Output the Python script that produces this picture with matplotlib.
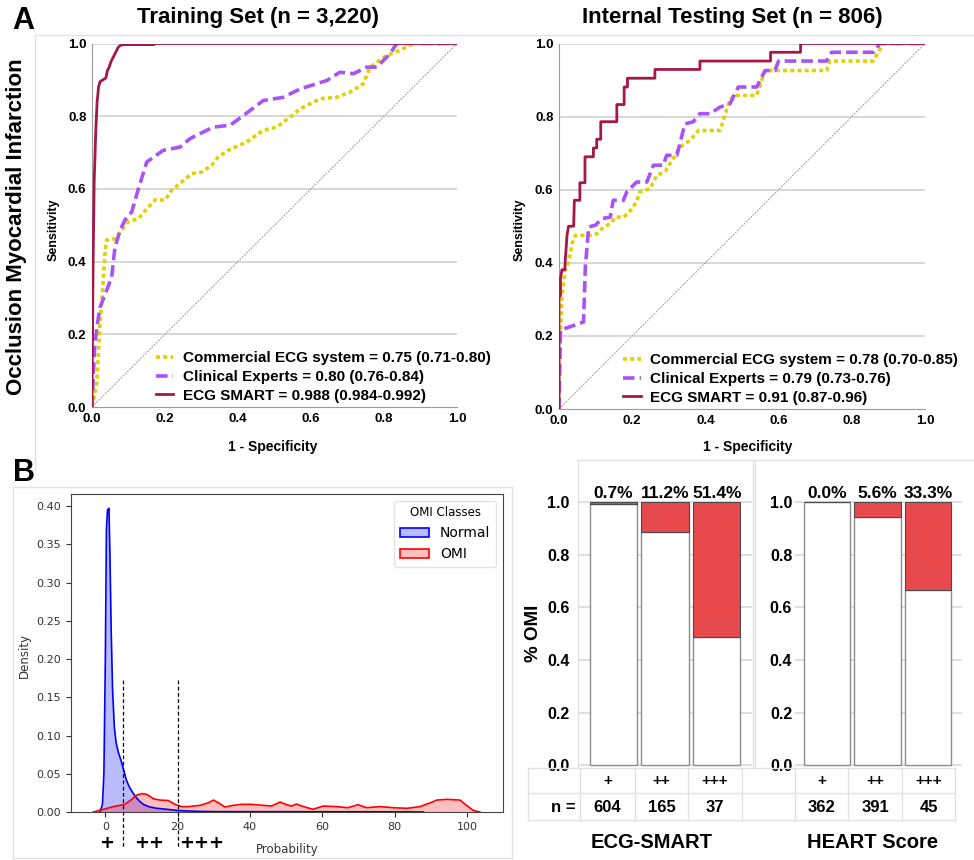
import numpy as np
import matplotlib.pyplot as plt
from matplotlib.lines import Line2D
from matplotlib.patches import Patch
import matplotlib.transforms as mtransforms

W, H = 974, 860

# ROC curves (fpr, tpr)
train_smart_fpr = [0, 0.003, 0.006, 0.01, 0.014, 0.018, 0.022, 0.03, 0.038, 0.042, 0.047, 0.052, 0.057,
                   0.062, 0.067, 0.072, 0.078, 0.085, 0.17, 0.175, 1.0]
train_smart_tpr = [0, 0.4, 0.62, 0.75, 0.84, 0.88, 0.895, 0.9, 0.905, 0.925, 0.935, 0.95, 0.96,
                   0.97, 0.98, 0.99, 0.995, 0.997, 0.997, 1.0, 1.0]
train_expert_fpr = [0, 0.004, 0.008, 0.015, 0.022, 0.036, 0.054, 0.063, 0.077, 0.09, 0.109, 0.127, 0.15,
                    0.195, 0.241, 0.268, 0.332, 0.378, 0.415, 0.469, 0.524, 0.57, 0.643, 0.679, 0.716,
                    0.753, 0.78, 0.816, 0.835, 1.0]
train_expert_tpr = [0, 0.1, 0.175, 0.23, 0.275, 0.31, 0.358, 0.44, 0.486, 0.514, 0.537, 0.60, 0.674,
                    0.706, 0.715, 0.738, 0.77, 0.775, 0.802, 0.843, 0.852, 0.875, 0.898, 0.921, 0.917,
                    0.935, 0.935, 0.971, 1.0, 1.0]
train_comm_fpr = [0, 0.013, 0.022, 0.027, 0.036, 0.04, 0.063, 0.081, 0.1, 0.127, 0.15, 0.173, 0.2, 0.218,
                  0.246, 0.273, 0.30, 0.328, 0.346, 0.373, 0.424, 0.469, 0.506, 0.542, 0.57, 0.625, 0.67,
                  0.707, 0.743, 0.762, 0.807, 0.844, 0.88, 1.0]
train_comm_tpr = [0, 0.064, 0.23, 0.294, 0.43, 0.459, 0.463, 0.486, 0.51, 0.518, 0.545, 0.57, 0.569, 0.596,
                  0.619, 0.642, 0.646, 0.665, 0.688, 0.706, 0.729, 0.761, 0.77, 0.797, 0.82, 0.848, 0.852,
                  0.866, 0.889, 0.935, 0.967, 0.981, 1.0, 1.0]

test_smart_fpr = [0, 0, 0.004, 0.004, 0.008, 0.016, 0.017, 0.022, 0.026, 0.04, 0.042, 0.057, 0.057, 0.071,
                  0.071, 0.094, 0.094, 0.103, 0.103, 0.114, 0.114, 0.158, 0.158, 0.178, 0.178, 0.187, 0.187,
                  0.262, 0.262, 0.385, 0.385, 0.578, 0.578, 0.66, 0.66, 1.0]
test_smart_tpr = [0, 0.31, 0.31, 0.357, 0.381, 0.381, 0.405, 0.476, 0.5, 0.5, 0.571, 0.571, 0.619, 0.619,
                  0.69, 0.69, 0.714, 0.714, 0.738, 0.738, 0.786, 0.786, 0.833, 0.833, 0.881, 0.881, 0.905,
                  0.905, 0.929, 0.929, 0.952, 0.952, 0.976, 0.976, 1.0, 1.0]
test_expert_fpr = [0, 0.004, 0.067, 0.072, 0.081, 0.1, 0.117, 0.14, 0.148, 0.176, 0.185, 0.212, 0.24, 0.258,
                   0.285, 0.294, 0.322, 0.344, 0.367, 0.385, 0.413, 0.44, 0.467, 0.49, 0.54, 0.563, 0.59,
                   0.6, 0.731, 0.745, 0.859, 0.877, 1.0]
test_expert_tpr = [0, 0.216, 0.238, 0.389, 0.498, 0.503, 0.521, 0.525, 0.571, 0.571, 0.594, 0.621, 0.621,
                   0.667, 0.667, 0.694, 0.694, 0.78, 0.786, 0.808, 0.808, 0.826, 0.835, 0.881, 0.881, 0.926,
                   0.926, 0.952, 0.952, 0.976, 0.976, 1.0, 1.0]
test_comm_fpr = [0, 0.0, 0.004, 0.008, 0.017, 0.026, 0.036, 0.045, 0.09, 0.104, 0.122, 0.14, 0.154, 0.177,
                 0.2, 0.213, 0.221, 0.249, 0.267, 0.29, 0.312, 0.331, 0.358, 0.381, 0.44, 0.463, 0.476, 0.54,
                 0.563, 0.731, 0.74, 0.859, 0.886, 1.0]
test_comm_tpr = [0, 0.116, 0.207, 0.307, 0.38, 0.4, 0.453, 0.475, 0.475, 0.48, 0.498, 0.507, 0.525, 0.525,
                 0.548, 0.571, 0.594, 0.603, 0.639, 0.65, 0.685, 0.717, 0.735, 0.762, 0.762, 0.835, 0.858,
                 0.858, 0.926, 0.926, 0.952, 0.952, 1.0, 1.0]

train_labels = ['Commercial ECG system = 0.75 (0.71-0.80)',
                'Clinical Experts = 0.80 (0.76-0.84)',
                'ECG SMART = 0.988 (0.984-0.992)']
test_labels = ['Commercial ECG system = 0.78 (0.70-0.85)',
               'Clinical Experts = 0.79 (0.73-0.76)',
               'ECG SMART = 0.91 (0.87-0.96)']

# density curves
normal_x = [-1.5, -0.8, -0.4, 0.0, 0.3, 0.6, 1.0, 1.3, 1.6, 2.0, 2.5, 3.0, 3.6, 4.3, 5.0, 5.8, 6.6, 7.5,
            8.5, 9.5, 10.5, 12, 14, 16, 18, 20, 23, 26, 30, 40, 50, 60, 70, 80, 86, 88]
normal_y = [0, 0.01, 0.05, 0.2, 0.37, 0.395, 0.397, 0.33, 0.24, 0.16, 0.11, 0.09, 0.078, 0.068, 0.056,
            0.042, 0.033, 0.026, 0.019, 0.014, 0.01, 0.007, 0.005, 0.004, 0.003, 0.002, 0.0013, 0.0008,
            0.0005, 0.0004, 0.0004, 0.0003, 0.0003, 0.0002, 0.0001, 0]
omi_x = [-3.3, -0.55, 2.2, 5.4, 7.3, 8.7, 10.1, 11.5, 13.3, 15.1, 17.4, 19.3, 21.1, 23, 26.2, 28.5, 29.9,
         31.3, 33.1, 35.4, 37.7, 40.4, 43.7, 46, 48.3, 50.2, 51.5, 52.9, 54.3, 57.4, 60.3, 63.9, 67.1,
         69.9, 72.3, 75.9, 79.7, 83.4, 87, 89.9, 91.7, 94.5, 98.1, 99.9, 101.8, 103.6]
omi_y = [0, 0.0035, 0.007, 0.01, 0.0165, 0.022, 0.024, 0.023, 0.0173, 0.0156, 0.015, 0.01, 0.007, 0.007,
         0.0087, 0.012, 0.0156, 0.012, 0.0065, 0.0087, 0.01, 0.01, 0.0087, 0.0078, 0.013, 0.0095, 0.0078,
         0.0104, 0.0078, 0.0035, 0.0078, 0.007, 0.0056, 0.0095, 0.0056, 0.007, 0.0056, 0.0048, 0.007,
         0.012, 0.0156, 0.0165, 0.0156, 0.0087, 0.002, 0]
thresholds = [5, 20]
risk_classes = ['+', '++', '+++']

# stacked bars
smart_omi = [0.007, 0.112, 0.514]
heart_omi = [0.0, 0.056, 0.333]
smart_n = [604, 165, 37]
heart_n = [362, 391, 45]

YELLOW = '#e3d000'
PURPLE = '#a853f5'
CRIMSON = '#a3174a'
BAR_RED = '#e8494d'
FRAME = '#e2e2e2'

plt.rcParams['font.family'] = ['Liberation Sans', 'DejaVu Sans']
plt.rcParams['font.weight'] = 'bold'

fig = plt.figure(figsize=(W / 100, H / 100), dpi=100)


def px_box(l, t, r, b):
    return [l / W, 1 - b / H, (r - l) / W, (b - t) / H]


def px_line(x0, y0, x1, y1, color=FRAME, lw=1.0):
    fig.add_artist(Line2D([x0 / W, x1 / W], [1 - y0 / H, 1 - y1 / H],
                          transform=fig.transFigure, color=color, lw=lw))


def px_text(x, y, s, **kw):
    fig.text(x / W, 1 - y / H, s, ha='center', va='center', **kw)


# decorative frames
px_line(35, 35, 974, 35)
px_line(35, 35, 35, 470)
px_line(13, 487, 512, 487)
px_line(13, 858, 512, 858)
px_line(13, 487, 13, 858)
px_line(512, 487, 512, 858)
px_line(578, 460, 753, 460)
px_line(578, 460, 578, 768)
px_line(753, 460, 753, 768)
px_line(755, 460, 974, 460)
px_line(755, 460, 755, 768)
for yy in [768, 793, 820]:
    px_line(528, yy, 955, yy)
for xx in [528, 580, 635, 688, 742, 795, 848, 902, 955]:
    px_line(xx, 768, xx, 820)


def roc_panel(ax, curves, labels):
    ax.set_xlim(0, 1)
    ax.set_ylim(0, 1)
    for y in [0.2, 0.4, 0.6, 0.8, 1.0]:
        ax.axhline(y, color='#d4d4d4', lw=1.3, zorder=0)
    ax.plot([0, 1], [0, 1], color='#9a9a9a', lw=0.7, ls=(0, (2, 1.2)), zorder=1)
    styles = [dict(color=YELLOW, lw=2.6, ls=(0, (1.1, 0.9))),
              dict(color=PURPLE, lw=2.6, ls=(0, (3.2, 1.4))),
              dict(color=CRIMSON, lw=2.0, ls='-')]
    for (fx, ty), lab, st in zip(curves, labels, styles):
        ax.plot(fx, ty, label=lab, **st, zorder=3)
    for s in ['top', 'right']:
        ax.spines[s].set_visible(False)
    for s in ['left', 'bottom']:
        ax.spines[s].set_color('#9a9a9a')
    ax.set_xticks(np.arange(0, 1.01, 0.2))
    ax.set_yticks(np.arange(0, 1.01, 0.2))
    ax.xaxis.set_major_formatter(plt.FormatStrFormatter('%.1f'))
    ax.yaxis.set_major_formatter(plt.FormatStrFormatter('%.1f'))
    ax.tick_params(length=0, labelsize=9.5, pad=4)
    ax.legend(loc='lower left', bbox_to_anchor=(0.175, 0.012), frameon=False, fontsize=11,
              borderpad=0, handlelength=1.15, handletextpad=0.6, labelspacing=0.3, borderaxespad=0)


ax1 = fig.add_axes(px_box(92, 43.5, 457, 407))
roc_panel(ax1, [(train_comm_fpr, train_comm_tpr), (train_expert_fpr, train_expert_tpr),
                (train_smart_fpr, train_smart_tpr)], train_labels)
ax2 = fig.add_axes(px_box(559, 43.5, 925, 409))
roc_panel(ax2, [(test_comm_fpr, test_comm_tpr), (test_expert_fpr, test_expert_tpr),
                (test_smart_fpr, test_smart_tpr)], test_labels)

px_text(258, 18, 'Training Set (n = 3,220)', fontsize=16)
px_text(732, 18, 'Internal Testing Set (n = 806)', fontsize=16)
px_text(23, 21, 'A', fontsize=22)
px_text(17, 227, 'Occlusion Myocardial Infarction', fontsize=16, rotation=90)
px_text(54, 230, 'Sensitivity', fontsize=9, rotation=90)
px_text(520, 230, 'Sensitivity', fontsize=9, rotation=90)
px_text(273, 447, '1 - Specificity', fontsize=10)
px_text(748, 447, '1 - Specificity', fontsize=10)
px_text(24, 473, 'B', fontsize=22)

# panel B: density
ax3 = fig.add_axes(px_box(71, 494, 503, 812))
ax3.fill_between(normal_x, normal_y, color='blue', alpha=0.27, lw=0)
ax3.plot(normal_x, normal_y, color='blue', lw=1.2)
ax3.fill_between(omi_x, omi_y, color='red', alpha=0.25, lw=0)
ax3.plot(omi_x, omi_y, color='red', lw=1.2)
ax3.set_xlim(-9.5, 110)
ax3.set_ylim(0, 0.4157)
ax3.set_xticks(np.arange(0, 101, 20))
ax3.set_yticks(np.arange(0, 0.401, 0.05))
ax3.yaxis.set_major_formatter(plt.FormatStrFormatter('%.2f'))
ax3.tick_params(labelsize=8, colors='#333', length=3.5)
for lab in ax3.get_xticklabels() + ax3.get_yticklabels():
    lab.set_fontfamily('DejaVu Sans')
    lab.set_fontweight('normal')
for s in ax3.spines.values():
    s.set_color('#444')
ax3.set_xlabel('Probability', fontsize=8.5, family='DejaVu Sans', weight='normal', color='#333')
ax3.set_ylabel('Density', fontsize=8.5, family='DejaVu Sans', weight='normal', color='#333')
ax3.xaxis.set_label_coords(0.5, -(843 - 812) / 318)
ax3.yaxis.set_label_coords((31 - 71) / 432, (812 - 655) / 318)
for t in thresholds:
    ax3.plot([t, t], [0.172, -0.047], color='black', lw=0.9, ls=(0, (3, 2)), clip_on=False)
trans = mtransforms.blended_transform_factory(ax3.transData, ax3.transAxes)
for xpos, lab in zip([0.4, 12.1, 26.7], risk_classes):
    ax3.text(xpos, -(843 - 812) / 318, lab, transform=trans, ha='center', va='center',
             fontsize=13, family='DejaVu Sans', weight='bold')
handles = [Patch(facecolor=(0, 0, 1, 0.27), edgecolor='blue', lw=1.2, label='Normal'),
           Patch(facecolor=(1, 0, 0, 0.25), edgecolor='red', lw=1.2, label='OMI')]
leg = ax3.legend(handles=handles, title='OMI Classes', loc='upper right', fontsize=10,
                 title_fontsize=8.5, handlelength=2.1, edgecolor='#dddddd', fancybox=True,
                 prop={'family': 'DejaVu Sans', 'weight': 'normal', 'size': 10})
leg.get_title().set_fontfamily('DejaVu Sans')
leg.get_title().set_fontweight('normal')


def bar_panel(ax, omi, pad):
    x = np.arange(len(omi))
    omi = np.array(omi)
    ax.set_axisbelow(True)
    ax.grid(axis='y', color='#d9d9d9', lw=1.2)
    ax.bar(x, 1 - omi, width=0.91, color='white', edgecolor='#8c8c8c', lw=1)
    ax.bar(x, omi, bottom=1 - omi, width=0.91, color=BAR_RED, edgecolor='#4a4a4a', lw=0.8)
    for xi, v in zip(x, omi):
        ax.text(xi, 1.005, f'{v * 100:.1f}%', ha='center', va='bottom', fontsize=12.5)
    ax.set_ylim(-0.03, 1.16)
    ax.set_yticks(np.arange(0, 1.01, 0.2))
    ax.yaxis.set_major_formatter(plt.FormatStrFormatter('%.1f'))
    ax.set_xticks([])
    ax.tick_params(length=0, labelsize=11.5, pad=pad)
    for s in ax.spines.values():
        s.set_visible(False)


ax4 = fig.add_axes(px_box(578, 460, 752, 773))
bar_panel(ax4, smart_omi, 6)
ax4.set_xlim(-0.68, 2.68)
ax5 = fig.add_axes(px_box(795, 460, 962, 773))
bar_panel(ax5, heart_omi, 2)
ax5.set_xlim(-0.63, 2.67)

px_text(533, 633, '% OMI', fontsize=13.5, rotation=90)

smart_cols = [607.5, 661.5, 715]
heart_cols = [821.5, 875, 928.5]
for cols, counts in [(smart_cols, smart_n), (heart_cols, heart_n)]:
    for cx, lab, n in zip(cols, risk_classes, counts):
        px_text(cx, 781, lab, fontsize=11)
        px_text(cx, 808, str(n), fontsize=12)
px_text(563, 808, 'n =', fontsize=12)
px_text(652, 842, 'ECG-SMART', fontsize=14.5)
px_text(873, 842, 'HEART Score', fontsize=14.5)

fig.savefig('out.png', dpi=100)
